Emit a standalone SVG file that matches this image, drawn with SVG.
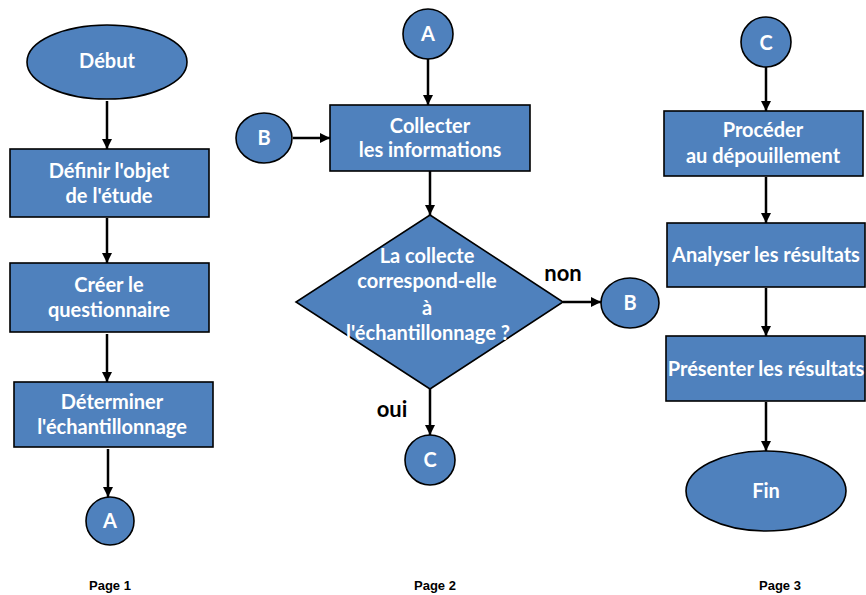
<svg xmlns="http://www.w3.org/2000/svg" width="866" height="595" viewBox="0 0 866 595">
<defs>
<marker id="ah" viewBox="0 0 10 10" refX="10" refY="5" markerWidth="4" markerHeight="4" orient="auto" markerUnits="strokeWidth">
<path d="M0,0 L10,5 L0,10 z" fill="#000"/>
</marker>
<style>
.sh{fill:#4F81BD;stroke:#000;stroke-width:1.6}
.t{font-family:Lato,"Liberation Sans",sans-serif;font-weight:bold;font-size:20px;fill:#fff;text-anchor:middle}
.lb{font-family:Lato,"Liberation Sans",sans-serif;font-weight:bold;font-size:22px;fill:#000;text-anchor:middle}
.pg{font-family:"Liberation Sans",Arial,sans-serif;font-weight:bold;font-size:13px;fill:#000;text-anchor:middle}
.c{stroke:#000;stroke-width:2.5;fill:none;marker-end:url(#ah)}
</style>
</defs>
<rect width="866" height="595" fill="#fff"/>
<g id="connectors">
<line class="c" x1="107" y1="101" x2="107" y2="149"/>
<line class="c" x1="107" y1="218" x2="107" y2="263"/>
<line class="c" x1="107" y1="334" x2="107" y2="382"/>
<line class="c" x1="108" y1="449" x2="108" y2="497"/>
<line class="c" x1="428" y1="59" x2="428" y2="105"/>
<line class="c" x1="293" y1="138" x2="330" y2="138"/>
<line class="c" x1="430" y1="171" x2="430" y2="215"/>
<line class="c" x1="563" y1="302" x2="601" y2="302"/>
<line class="c" x1="430" y1="389" x2="430" y2="435"/>
<line class="c" x1="766" y1="67" x2="766" y2="111"/>
<line class="c" x1="766" y1="177" x2="766" y2="223"/>
<line class="c" x1="766" y1="288" x2="766" y2="336"/>
<line class="c" x1="766" y1="402" x2="766" y2="451"/>
</g>
<g id="debut"><ellipse class="sh" cx="107" cy="62" rx="80" ry="37"/><text class="t" x="107" y="68">Début</text></g>
<g id="definir"><rect class="sh" x="10" y="149" width="199" height="68"/><text class="t" x="109" y="178">Définir l'objet</text><text class="t" x="109" y="203">de l'étude</text></g>
<g id="creer"><rect class="sh" x="10" y="263" width="199" height="69"/><text class="t" x="109" y="292">Créer le</text><text class="t" x="109" y="317">questionnaire</text></g>
<g id="determiner"><rect class="sh" x="14" y="382" width="199" height="65"/><text class="t" x="112" y="409">Déterminer</text><text class="t" x="112" y="434">l'échantillonnage</text></g>
<g id="a1"><circle class="sh" cx="110" cy="521" r="24"/><text class="t" x="110" y="528">A</text></g>
<text class="pg" x="110" y="590">Page 1</text>

<g id="a2"><circle class="sh" cx="428" cy="34" r="25"/><text class="t" x="428" y="41">A</text></g>
<g id="b1"><ellipse class="sh" cx="264" cy="138" rx="28" ry="25"/><text class="t" x="264" y="145">B</text></g>
<g id="collecter"><rect class="sh" x="330" y="105" width="200" height="66"/><text class="t" x="430" y="133">Collecter</text><text class="t" x="430" y="157">les informations</text></g>
<g id="decision"><polygon class="sh" points="430,215 563,302 430,389 296,302" stroke-width="1"/><text class="t" x="427" y="263">La collecte</text><text class="t" x="427" y="288">correspond-elle</text><text class="t" x="427" y="315">à</text><text class="t" x="428" y="340">l'échantillonnage ?</text></g>
<text class="lb" x="563" y="281">non</text>
<text class="lb" x="392" y="417">oui</text>
<g id="b2"><ellipse class="sh" cx="630" cy="303" rx="29" ry="25"/><text class="t" x="630" y="310">B</text></g>
<g id="c1"><circle class="sh" cx="430" cy="460" r="25"/><text class="t" x="430" y="467">C</text></g>
<text class="pg" x="435" y="590">Page 2</text>

<g id="c2"><circle class="sh" cx="766" cy="42" r="25"/><text class="t" x="766" y="50">C</text></g>
<g id="proceder"><rect class="sh" x="664" y="111" width="199" height="65"/><text class="t" x="763" y="137">Procéder</text><text class="t" x="763" y="163">au dépouillement</text></g>
<g id="analyser"><rect class="sh" x="667" y="223" width="198" height="64"/><text class="t" x="766" y="262">Analyser les résultats</text></g>
<g id="presenter"><rect class="sh" x="666" y="336" width="199" height="65"/><text class="t" x="766" y="376">Présenter les résultats</text></g>
<g id="fin"><ellipse class="sh" cx="766" cy="491" rx="80" ry="40"/><text class="t" x="766" y="498">Fin</text></g>
<text class="pg" x="780" y="590">Page 3</text>
</svg>
